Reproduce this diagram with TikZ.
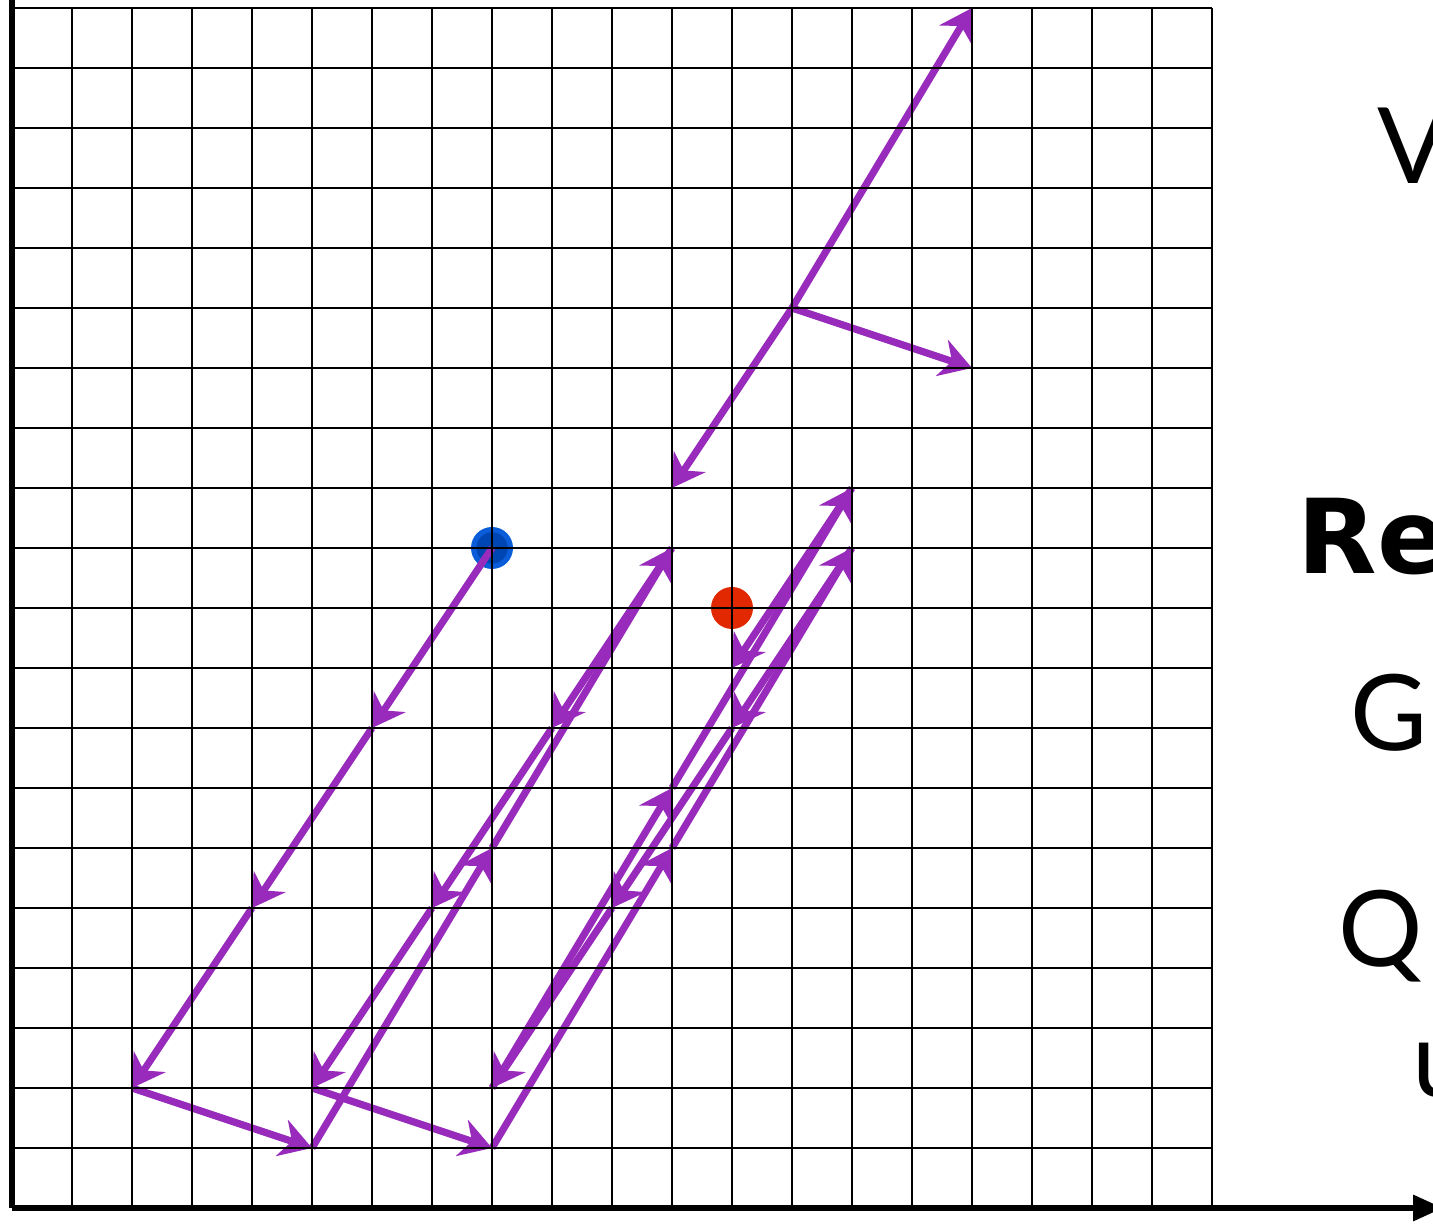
\documentclass[tikz,border=0pt]{standalone}
\usepackage{fontspec}
\setmainfont{Lato}
\newfontfamily\boldsans{DejaVu Sans}
\usetikzlibrary{arrows.meta}

\definecolor{vecpurple}{RGB}{152,43,187}
\definecolor{dotblue}{RGB}{10,92,216}
\definecolor{dotbluedark}{RGB}{0,70,178}
\definecolor{dotred}{RGB}{226,40,0}

\tikzset{
  vec/.style={draw=vecpurple, line width=3.4pt,
    -{Stealth[length=15pt,width=18pt,inset=5pt]}},
  gridline/.style={line width=1.2pt},
  axisline/.style={line width=2.7pt},
  lbl/.style={anchor=base west, inner sep=0pt,
    font=\fontsize{50}{60}\selectfont\rmfamily}
}

\begin{document}
\begin{tikzpicture}[scale=1.0]
\useasboundingbox (-0.2,-0.267) rectangle (23.683,20.133);

% start and target
\coordinate (start) at (8,11);
\coordinate (target) at (12,10);
\fill[dotblue] (start) circle (0.35);
\fill[dotbluedark] (start) circle (0.26);
\fill[dotred] (target) circle (0.35);

% path of steps
\coordinate (p1) at (6,8);
\coordinate (p2) at (4,5);
\coordinate (p3) at (2,2);
\coordinate (p4) at (5,1);
\coordinate (p5) at (8,6);
\coordinate (p6) at (11,11);
\coordinate (p7) at (9,8);
\coordinate (p8) at (7,5);
\coordinate (p9) at (5,2);
\coordinate (p10) at (8,1);
\coordinate (p11) at (11,6);
\coordinate (p12) at (14,11);
\coordinate (p13) at (12,8);
\coordinate (p14) at (10,5);
\coordinate (p15) at (8,2);
\coordinate (p16) at (11,7);
\coordinate (p17) at (14,12);
\coordinate (p18) at (12,9);

\foreach \a/\b in {start/p1,p1/p2,p2/p3,p3/p4,p4/p5,p5/p6,p6/p7,p7/p8,
                   p8/p9,p9/p10,p10/p11,p11/p12,p12/p13,p13/p14,p14/p15,
                   p15/p16,p16/p17,p17/p18}
  \draw[vec] (\a) -- (\b);

% the three basis steps
\coordinate (origin) at (13,15);
\coordinate (stepa) at (16,20);
\coordinate (stepb) at (11,12);
\coordinate (stepc) at (16,14);
\draw[vec] (origin) -- (stepa);
\draw[vec] (origin) -- (stepb);
\draw[vec] (origin) -- (stepc);

% grid on top
\draw[gridline] (0,0) grid (20,20);

% axes
\coordinate (corner) at (0,0);
\coordinate (xend) at (23.85,0);
\coordinate (yend) at (0,21);
\draw[axisline, -{Triangle[length=0.5cm,width=0.42cm]}] (corner) -- (xend);
\draw[axisline, -{Triangle[length=0.5cm,width=0.42cm]}] (corner) -- (yend);

% labels
\node[lbl] (lv) at (22.75,17.08) {V};
\node[lbl, font=\fontsize{49}{60}\selectfont\boldsans\bfseries] (lre) at (21.42,10.58) {Re};
\node[lbl] (lg) at (22.3,7.63) {G};
\node[lbl] (lq) at (22.1,4.02) {Q};
\node[lbl] (lu) at (23.33,1.85) {u};
\end{tikzpicture}
\end{document}
